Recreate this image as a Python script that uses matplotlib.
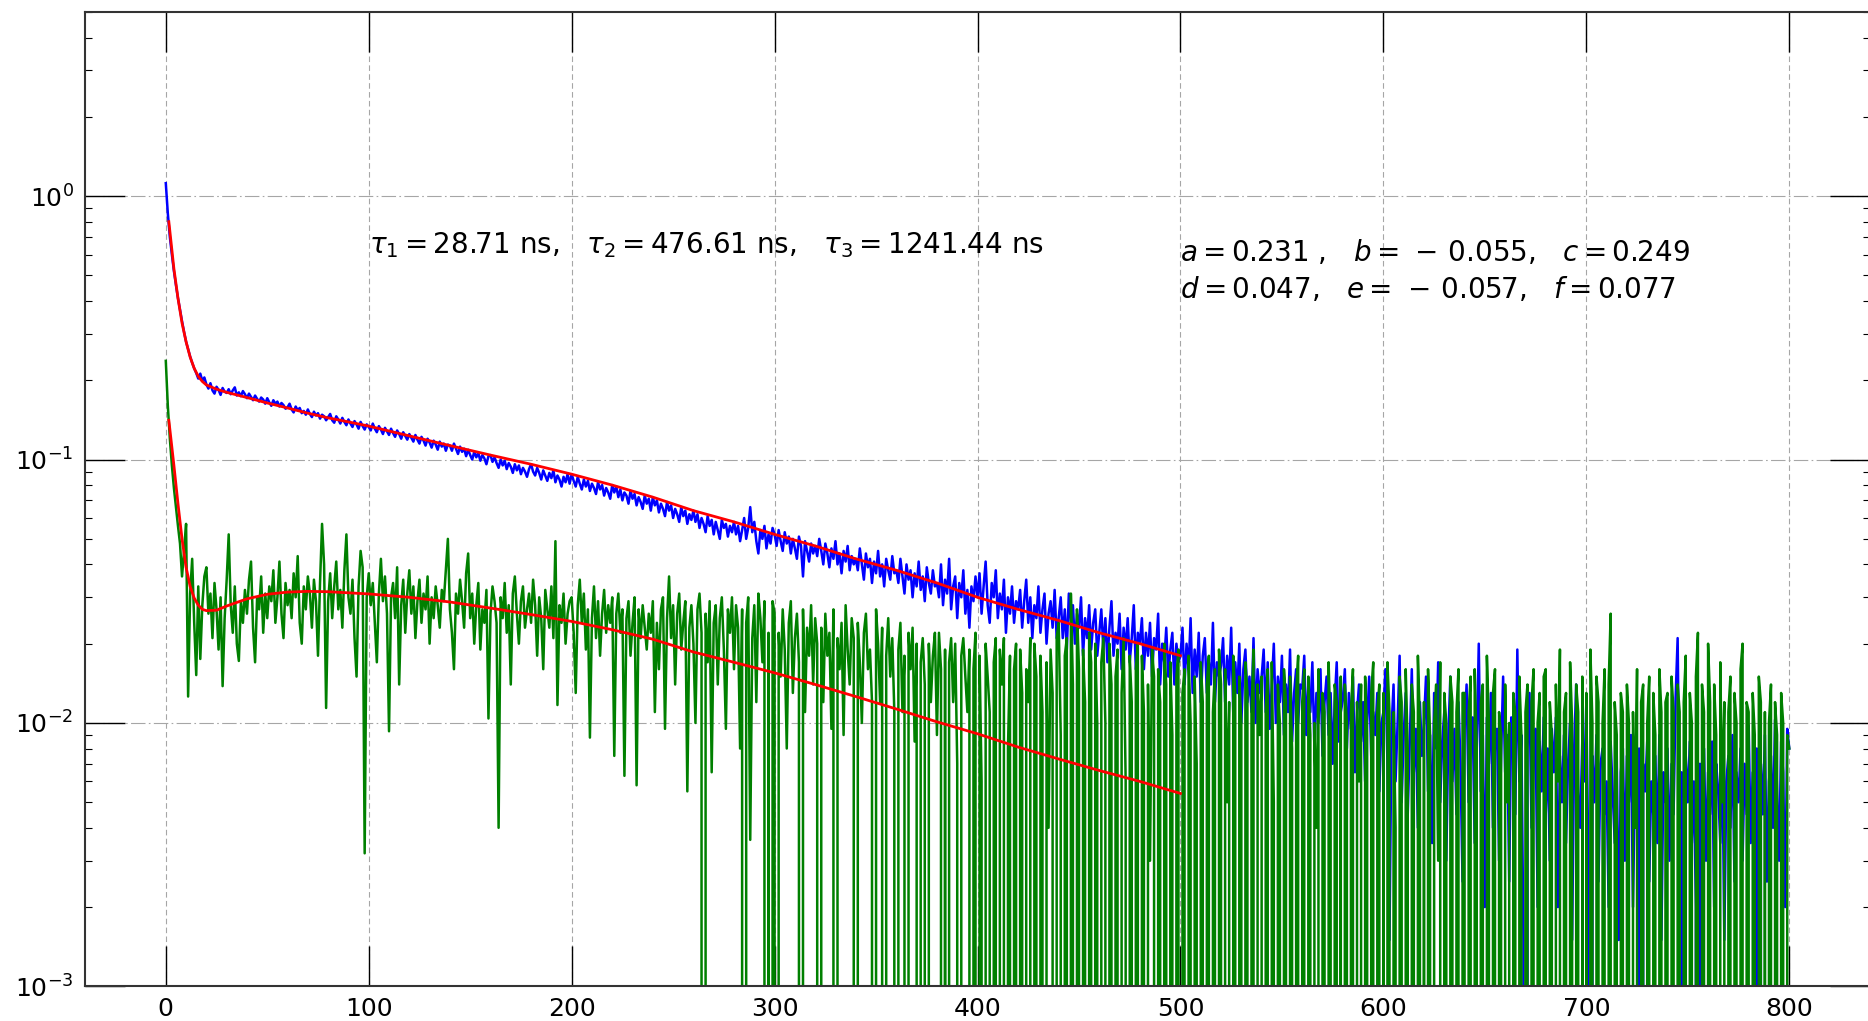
import numpy as np
import matplotlib
matplotlib.use('Agg')
import matplotlib.pyplot as plt

# time bins (ns), 1 ns spacing
t = np.arange(0, 801)

# measured decay (blue)
blue = [
    1.12, 0.86, 0.70, 0.60, 0.52, 0.46, 0.41, 0.37, 0.335, 0.305, 0.28, 0.262, 0.246, 0.233, 0.222, 0.213, 0.203, 0.212, 0.199, 0.205,
    0.193, 0.186, 0.195, 0.183, 0.178, 0.189, 0.184, 0.176, 0.187, 0.181, 0.179, 0.185, 0.177, 0.183, 0.188, 0.175, 0.180, 0.174, 0.182, 0.177,
    0.171, 0.178, 0.173, 0.168, 0.175, 0.170, 0.166, 0.172, 0.169, 0.163, 0.171, 0.165, 0.160, 0.168, 0.163, 0.166, 0.159, 0.164, 0.161, 0.156,
    0.158, 0.163, 0.155, 0.151, 0.159, 0.154, 0.157, 0.150, 0.153, 0.148, 0.155, 0.149, 0.145, 0.152, 0.147, 0.150, 0.143, 0.148, 0.146, 0.141,
    0.145, 0.149, 0.141, 0.138, 0.146, 0.142, 0.137, 0.144, 0.139, 0.135, 0.142, 0.137, 0.133, 0.140, 0.136, 0.131, 0.139, 0.134, 0.130, 0.136,
    0.133, 0.129, 0.137, 0.131, 0.127, 0.134, 0.130, 0.125, 0.132, 0.128, 0.124, 0.131, 0.126, 0.122, 0.129, 0.125, 0.120, 0.127, 0.123, 0.119,
    0.125, 0.121, 0.117, 0.124, 0.119, 0.115, 0.122, 0.118, 0.113, 0.120, 0.116, 0.111, 0.118, 0.114, 0.109, 0.117, 0.112, 0.115, 0.108, 0.114,
    0.113, 0.108, 0.115, 0.110, 0.105, 0.112, 0.107, 0.110, 0.103, 0.109, 0.104, 0.100, 0.107, 0.102, 0.106, 0.099, 0.104, 0.101, 0.096, 0.103,
    0.104, 0.098, 0.102, 0.097, 0.093, 0.100, 0.095, 0.099, 0.092, 0.097, 0.094, 0.089, 0.096, 0.091, 0.095, 0.088, 0.093, 0.090, 0.086, 0.092,
    0.096, 0.090, 0.087, 0.093, 0.089, 0.084, 0.091, 0.087, 0.083, 0.089, 0.085, 0.091, 0.082, 0.087, 0.084, 0.079, 0.086, 0.082, 0.088, 0.081,
    0.088, 0.083, 0.079, 0.086, 0.081, 0.077, 0.084, 0.079, 0.083, 0.076, 0.081, 0.078, 0.074, 0.082, 0.077, 0.080, 0.073, 0.078, 0.075, 0.071,
    0.080, 0.075, 0.079, 0.072, 0.077, 0.070, 0.075, 0.073, 0.068, 0.076, 0.071, 0.074, 0.067, 0.072, 0.069, 0.065, 0.073, 0.068, 0.071, 0.064,
    0.072, 0.067, 0.070, 0.063, 0.068, 0.065, 0.061, 0.069, 0.064, 0.067, 0.060, 0.065, 0.062, 0.058, 0.066, 0.061, 0.064, 0.057, 0.062, 0.059,
    0.064, 0.058, 0.062, 0.055, 0.060, 0.057, 0.053, 0.061, 0.056, 0.059, 0.052, 0.058, 0.054, 0.050, 0.059, 0.055, 0.057, 0.051, 0.056, 0.053,
    0.058, 0.052, 0.056, 0.049, 0.054, 0.060, 0.050, 0.055, 0.066, 0.053, 0.058, 0.049, 0.044, 0.054, 0.050, 0.056, 0.046, 0.052, 0.048, 0.055,
    0.052, 0.047, 0.054, 0.049, 0.045, 0.053, 0.048, 0.051, 0.044, 0.050, 0.046, 0.042, 0.051, 0.047, 0.036, 0.049, 0.045, 0.041, 0.048, 0.044,
    0.047, 0.043, 0.050, 0.045, 0.040, 0.048, 0.044, 0.039, 0.046, 0.042, 0.049, 0.040, 0.044, 0.037, 0.045, 0.041, 0.047, 0.038, 0.043, 0.040,
    0.042, 0.038, 0.046, 0.040, 0.035, 0.044, 0.039, 0.042, 0.034, 0.041, 0.037, 0.045, 0.036, 0.040, 0.033, 0.042, 0.038, 0.035, 0.043, 0.037,
    0.038, 0.034, 0.042, 0.036, 0.031, 0.040, 0.035, 0.038, 0.030, 0.037, 0.033, 0.041, 0.032, 0.036, 0.029, 0.039, 0.034, 0.031, 0.038, 0.033,
    0.034, 0.030, 0.040, 0.028, 0.035, 0.031, 0.042, 0.027, 0.033, 0.036, 0.025, 0.034, 0.030, 0.038, 0.026, 0.032, 0.023, 0.033, 0.029, 0.036,
    0.030, 0.037, 0.026, 0.033, 0.041, 0.028, 0.024, 0.034, 0.030, 0.038, 0.025, 0.031, 0.027, 0.035, 0.022, 0.030, 0.026, 0.033, 0.024, 0.029,
    0.027, 0.032, 0.023, 0.029, 0.035, 0.024, 0.030, 0.021, 0.028, 0.025, 0.033, 0.022, 0.027, 0.031, 0.020, 0.026, 0.029, 0.023, 0.032, 0.021,
    0.025, 0.030, 0.021, 0.027, 0.019, 0.031, 0.024, 0.028, 0.020, 0.026, 0.023, 0.030, 0.018, 0.025, 0.021, 0.028, 0.019, 0.024, 0.027, 0.018,
    0.022, 0.027, 0.019, 0.025, 0.017, 0.023, 0.029, 0.018, 0.022, 0.020, 0.026, 0.016, 0.023, 0.019, 0.025, 0.017, 0.021, 0.028, 0.016, 0.022,
    0.020, 0.025, 0.016, 0.022, 0.018, 0.024, 0.015, 0.021, 0.019, 0.026, 0.014, 0.020, 0.017, 0.023, 0.015, 0.019, 0.022, 0.014, 0.020, 0.017,
    0.018, 0.023, 0.014, 0.020, 0.016, 0.025, 0.013, 0.019, 0.015, 0.022, 0.012, 0.018, 0.021, 0.013, 0.017, 0.014, 0.024, 0.012, 0.017, 0.015,
    0.0165, 0.021, 0.012, 0.018, 0.014, 0.023, 0.011, 0.017, 0.013, 0.020, 0.010, 0.016, 0.019, 0.012, 0.015, 0.011, 0.021, 0.010, 0.016, 0.013,
    0.015, 0.019, 0.011, 0.017, 0.0095, 0.014, 0.020, 0.010, 0.015, 0.012, 0.018, 0.009, 0.014, 0.011, 0.019, 0.0085, 0.013, 0.016, 0.010, 0.014,
    0.0135, 0.018, 0.009, 0.014, 0.011, 0.017, 0.008, 0.013, 0.010, 0.016, 0.0075, 0.012, 0.015, 0.009, 0.013, 0.0070, 0.012, 0.017, 0.0085, 0.011,
    0.0122, 0.016, 0.0080, 0.013, 0.0095, 0.015, 0.0065, 0.011, 0.014, 0.0085, 0.012, 0.0060, 0.010, 0.015, 0.0075, 0.011, 0.0090, 0.013, 0.0055, 0.010,
    0.011, 0.016, 0.0070, 0.0015, 0.0095, 0.014, 0.0060, 0.010, 0.018, 0.0050, 0.009, 0.013, 0.0045, 0.0085, 0.016, 0.0065, 0.0095, 0.0040, 0.012, 0.0075,
    0.010, 0.015, 0.0055, 0.009, 0.0035, 0.013, 0.0080, 0.017, 0.0050, 0.0085, 0.011, 0.0030, 0.009, 0.015, 0.0060, 0.0095, 0.0045, 0.012, 0.0070, 0.0025,
    0.0095, 0.014, 0.0050, 0.0085, 0.0105, 0.0035, 0.008, 0.020, 0.0055, 0.009, 0.0020, 0.0105, 0.0070, 0.013, 0.0040, 0.0085, 0.0095, 0.0030, 0.0075, 0.015,
    0.0065, 0.009, 0.0025, 0.0105, 0.0075, 0.0045, 0.019, 0.0060, 0.0090, 0.0015, 0.0, 0.0080, 0.013, 0.0040, 0.0070, 0.0095, 0.0020, 0.0085, 0.0055, 0.0105,
    0.0045, 0.0080, 0.0030, 0.0095, 0.0065, 0.0105, 0.0020, 0.0075, 0.0050, 0.0090, 0.0035, 0.0070, 0.0100, 0.0015, 0.0080, 0.014, 0.0055, 0.0040, 0.0085, 0.0060,
    0.012, 0.0030, 0.0, 0.0075, 0.0050, 0.0090, 0.0025, 0.0070, 0.0080, 0.0045, 0.0060, 0.0020, 0.0085, 0.0055, 0.0035, 0.0075, 0.0015, 0.0065, 0.0080, 0.0030,
    0.0075, 0.0050, 0.0090, 0.0020, 0.0065, 0.0040, 0.0080, 0.0, 0.0070, 0.0055, 0.0085, 0.0025, 0.0060, 0.0045, 0.0075, 0.0035, 0.0090, 0.0015, 0.0065, 0.0050,
    0.0080, 0.0030, 0.0070, 0.0045, 0.0125, 0.021, 0.0040, 0.0065, 0.0, 0.0075, 0.0050, 0.0085, 0.0035, 0.0060, 0.0020, 0.0, 0.0070, 0.0045, 0.0080, 0.0030,
    0.0065, 0.0045, 0.0085, 0.0020, 0.0070, 0.0055, 0.0035, 0.0080, 0.0015, 0.0060, 0.0075, 0.0040, 0.0090, 0.0025, 0.0065, 0.0050, 0.0080, 0.0030, 0.0070, 0.0045,
    0.0098, 0.0035, 0.0065, 0.0050, 0.0080, 0.0, 0.0070, 0.0045, 0.0090, 0.0025, 0.0060, 0.0075, 0.0040, 0.0103, 0.0055, 0.0030, 0.0085, 0.0065, 0.0020, 0.0095,
    0.0080,
]

# second component (green)
green = [
    0.237, 0.16, 0.12, 0.095, 0.078, 0.066, 0.056, 0.048, 0.036, 0.045, 0.057, 0.0126, 0.031, 0.042, 0.024, 0.0152, 0.033, 0.0175, 0.028, 0.036,
    0.039, 0.026, 0.031, 0.021, 0.034, 0.027, 0.019, 0.030, 0.0138, 0.025, 0.035, 0.052, 0.028, 0.022, 0.033, 0.020, 0.0172, 0.029, 0.024, 0.032,
    0.026, 0.035, 0.041, 0.023, 0.017, 0.030, 0.027, 0.036, 0.022, 0.031, 0.025, 0.033, 0.029, 0.038, 0.024, 0.030, 0.041, 0.026, 0.021, 0.034,
    0.028, 0.032, 0.025, 0.037, 0.030, 0.043, 0.024, 0.020, 0.033, 0.027, 0.036, 0.031, 0.023, 0.035, 0.029, 0.018, 0.034, 0.057, 0.040, 0.0114,
    0.029, 0.037, 0.025, 0.033, 0.041, 0.027, 0.032, 0.023, 0.038, 0.052, 0.030, 0.026, 0.035, 0.021, 0.015, 0.033, 0.045, 0.039, 0.0032, 0.030,
    0.037, 0.028, 0.034, 0.024, 0.017, 0.031, 0.042, 0.029, 0.036, 0.026, 0.0093, 0.030, 0.034, 0.025, 0.039, 0.014, 0.028, 0.035, 0.022, 0.031,
    0.038, 0.026, 0.033, 0.021, 0.029, 0.035, 0.024, 0.031, 0.027, 0.036, 0.020, 0.030, 0.025, 0.033, 0.028, 0.023, 0.032, 0.029, 0.038, 0.050,
    0.027, 0.022, 0.016, 0.031, 0.026, 0.035, 0.029, 0.023, 0.037, 0.044, 0.025, 0.031, 0.020, 0.028, 0.034, 0.019, 0.027, 0.024, 0.032, 0.0104,
    0.026, 0.033, 0.029, 0.024, 0.0040, 0.030, 0.025, 0.034, 0.022, 0.028, 0.014, 0.031, 0.036, 0.026, 0.020, 0.029, 0.033, 0.023, 0.027, 0.031,
    0.024, 0.035, 0.028, 0.018, 0.030, 0.025, 0.016, 0.032, 0.027, 0.023, 0.033, 0.021, 0.049, 0.0117, 0.028, 0.024, 0.031, 0.020, 0.026, 0.029,
    0.030, 0.022, 0.013, 0.028, 0.035, 0.024, 0.031, 0.019, 0.027, 0.0088, 0.025, 0.033, 0.021, 0.029, 0.018, 0.026, 0.032, 0.022, 0.028, 0.024,
    0.030, 0.0075, 0.026, 0.031, 0.022, 0.027, 0.0063, 0.025, 0.029, 0.018, 0.024, 0.030, 0.0058, 0.027, 0.021, 0.028, 0.023, 0.019, 0.026, 0.022,
    0.029, 0.011, 0.024, 0.016, 0.027, 0.030, 0.0095, 0.025, 0.036, 0.021, 0.028, 0.014, 0.026, 0.031, 0.019, 0.024, 0.029, 0.0055, 0.023, 0.028,
    0.020, 0.010, 0.027, 0.031, 0.022, 0.0, 0.026, 0.017, 0.029, 0.0065, 0.024, 0.028, 0.014, 0.025, 0.030, 0.019, 0.0095, 0.027, 0.022, 0.030,
    0.016, 0.028, 0.023, 0.008, 0.027, 0.0, 0.024, 0.030, 0.0036, 0.021, 0.028, 0.012, 0.031, 0.025, 0.017, 0.029, 0.0, 0.022, 0.0, 0.029,
    0.026, 0.0, 0.022, 0.015, 0.027, 0.019, 0.0080, 0.024, 0.029, 0.013, 0.021, 0.026, 0.017, 0.0, 0.027, 0.011, 0.023, 0.018, 0.028, 0.014,
    0.025, 0.020, 0.0, 0.023, 0.012, 0.026, 0.018, 0.022, 0.0095, 0.027, 0.0, 0.021, 0.016, 0.024, 0.0090, 0.028, 0.019, 0.014, 0.025, 0.021,
    0.0, 0.024, 0.017, 0.010, 0.022, 0.026, 0.016, 0.019, 0.012, 0.0, 0.027, 0.020, 0.012, 0.023, 0.0, 0.018, 0.025, 0.015, 0.021, 0.011,
    0.0, 0.019, 0.024, 0.011, 0.018, 0.0, 0.022, 0.016, 0.023, 0.0085, 0.020, 0.0, 0.017, 0.021, 0.014, 0.0, 0.020, 0.012, 0.018, 0.022,
    0.009, 0.022, 0.016, 0.0, 0.019, 0.0, 0.017, 0.021, 0.012, 0.020, 0.007, 0.0, 0.018, 0.021, 0.015, 0.011, 0.019, 0.0, 0.016, 0.022,
    0.0, 0.018, 0.006, 0.0, 0.020, 0.015, 0.011, 0.0, 0.017, 0.021, 0.0, 0.019, 0.014, 0.021, 0.0, 0.008, 0.018, 0.0, 0.016, 0.020,
    0.0, 0.019, 0.013, 0.0, 0.016, 0.012, 0.021, 0.0, 0.020, 0.015, 0.0, 0.018, 0.011, 0.0, 0.017, 0.004, 0.019, 0.013, 0.0, 0.021,
    0.024, 0.009, 0.0, 0.018, 0.021, 0.0, 0.031, 0.014, 0.0, 0.027, 0.016, 0.0, 0.019, 0.012, 0.0, 0.022, 0.017, 0.0, 0.020, 0.010,
    0.0, 0.017, 0.021, 0.010, 0.0, 0.020, 0.014, 0.0, 0.015, 0.019, 0.0, 0.013, 0.021, 0.006, 0.0, 0.018, 0.012, 0.0, 0.016, 0.020,
    0.0, 0.018, 0.011, 0.0, 0.014, 0.003, 0.019, 0.015, 0.0, 0.016, 0.012, 0.0, 0.020, 0.014, 0.0, 0.017, 0.009, 0.0, 0.015, 0.019,
    0.0, 0.013, 0.016, 0.0, 0.018, 0.010, 0.0, 0.015, 0.007, 0.0, 0.017, 0.012, 0.0, 0.014, 0.018, 0.0, 0.011, 0.016, 0.0, 0.019,
    0.014, 0.0, 0.016, 0.005, 0.012, 0.0, 0.018, 0.013, 0.0, 0.015, 0.010, 0.0, 0.017, 0.013, 0.0, 0.011, 0.019, 0.0, 0.014, 0.009,
    0.015, 0.0, 0.011, 0.016, 0.0, 0.017, 0.005, 0.0, 0.014, 0.010, 0.0, 0.016, 0.012, 0.0, 0.015, 0.008, 0.0, 0.013, 0.018, 0.0,
    0.012, 0.016, 0.0, 0.015, 0.009, 0.0, 0.010, 0.004, 0.016, 0.0, 0.013, 0.011, 0.0, 0.017, 0.009, 0.0, 0.014, 0.012, 0.0, 0.015,
    0.0, 0.014, 0.010, 0.0, 0.011, 0.016, 0.0, 0.012, 0.006, 0.014, 0.0, 0.015, 0.009, 0.0, 0.013, 0.017, 0.0, 0.011, 0.014, 0.0,
    0.013, 0.0, 0.017, 0.011, 0.0, 0.011, 0.004, 0.0, 0.015, 0.012, 0.0, 0.016, 0.008, 0.0, 0.014, 0.011, 0.0, 0.018, 0.010, 0.0,
    0.012, 0.0, 0.016, 0.009, 0.0, 0.010, 0.014, 0.003, 0.017, 0.0, 0.013, 0.010, 0.0, 0.015, 0.012, 0.0, 0.011, 0.016, 0.0, 0.013,
    0.013, 0.0, 0.011, 0.015, 0.0, 0.016, 0.008, 0.0, 0.012, 0.014, 0.0, 0.018, 0.010, 0.0, 0.013, 0.016, 0.0, 0.011, 0.009, 0.0,
    0.014, 0.005, 0.010, 0.0, 0.013, 0.011, 0.0, 0.015, 0.009, 0.0, 0.011, 0.014, 0.0, 0.012, 0.016, 0.0, 0.010, 0.013, 0.0, 0.015,
    0.016, 0.0, 0.012, 0.009, 0.0, 0.014, 0.006, 0.019, 0.0, 0.011, 0.013, 0.0, 0.017, 0.010, 0.0, 0.014, 0.011, 0.0, 0.015, 0.0,
    0.013, 0.0, 0.019, 0.010, 0.0, 0.015, 0.012, 0.0, 0.010, 0.016, 0.0, 0.014, 0.026, 0.0, 0.012, 0.009, 0.0, 0.013, 0.011, 0.0,
    0.014, 0.010, 0.0, 0.011, 0.004, 0.016, 0.0, 0.012, 0.014, 0.0, 0.010, 0.015, 0.0, 0.013, 0.009, 0.0, 0.016, 0.011, 0.0, 0.012,
    0.013, 0.0, 0.015, 0.011, 0.0, 0.014, 0.011, 0.0, 0.012, 0.018, 0.0, 0.013, 0.010, 0.0, 0.015, 0.022, 0.0, 0.014, 0.011, 0.0,
    0.020, 0.012, 0.0, 0.014, 0.009, 0.0, 0.017, 0.005, 0.012, 0.0, 0.011, 0.015, 0.0, 0.013, 0.010, 0.0, 0.016, 0.020, 0.0, 0.012,
    0.011, 0.0, 0.013, 0.009, 0.0, 0.015, 0.012, 0.0, 0.011, 0.0, 0.010, 0.014, 0.0, 0.012, 0.009, 0.0, 0.013, 0.010, 0.0, 0.009,
    0.008,
]

# fitted curves (red)
fit_t = [1.5, 4, 6, 8, 10, 12, 14, 16, 18, 20, 25, 30, 40, 50, 60, 70, 80, 90,
         100, 120, 140, 160, 180, 200, 220, 240, 260, 280, 300, 320, 340, 360,
         380, 400, 420, 440, 460, 480, 500]
fit_blue = [0.80, 0.53, 0.41, 0.33, 0.28, 0.245, 0.222, 0.207, 0.198, 0.192,
            0.185, 0.180, 0.172, 0.164, 0.157, 0.150, 0.144, 0.139, 0.134,
            0.123, 0.113, 0.104, 0.096, 0.088, 0.080, 0.072, 0.064, 0.058,
            0.052, 0.047, 0.042, 0.038, 0.034, 0.030, 0.027, 0.0245, 0.022,
            0.020, 0.018]
fit_green = [0.141, 0.095, 0.068, 0.050, 0.039, 0.033, 0.0298, 0.028, 0.027,
             0.0267, 0.0268, 0.0278, 0.0296, 0.0308, 0.0314, 0.0316, 0.0315,
             0.0312, 0.0309, 0.0300, 0.0288, 0.0273, 0.0258, 0.0243, 0.0226,
             0.0208, 0.0186, 0.0170, 0.0155, 0.0140, 0.0126, 0.0113, 0.0101,
             0.0091, 0.0081, 0.0073, 0.0066, 0.0060, 0.0054]

assert len(blue) == len(t), len(blue)
assert len(green) == len(t), len(green)
assert len(fit_blue) == len(fit_t) and len(fit_green) == len(fit_t)

tau_label = r'$\tau_1 = 28.71$ ns,   $\tau_2 = 476.61$ ns,   $\tau_3 = 1241.44$ ns'
coef_line1 = r'$a = 0.231$ ,   $b = \,-\,0.055$,   $c = 0.249$'
coef_line2 = r'$d = 0.047$,   $e = \,-\,0.057$,   $f = 0.077$'

fig = plt.figure(figsize=(18.68, 10.21), dpi=100)
ax = fig.add_axes([0.0453, 0.0339, 0.956, 0.9543])

ax.plot(t, blue, color='b', lw=1.8)
ax.plot(t, green, color='g', lw=1.8)
ax.plot(fit_t, fit_blue, color='r', lw=2)
ax.plot(fit_t, fit_green, color='r', lw=2)

ax.set_yscale('log')
ax.set_xlim(-40, 840)
ax.set_ylim(1e-3, 5)
ax.set_xticks(range(0, 801, 100))

ax.xaxis.grid(True, linestyle=(0, (5, 3)), color='0.65', lw=0.8)
ax.yaxis.grid(True, which='major', linestyle=(0, (13, 3, 1.5, 3)), color='0.65', lw=0.8)

ax.tick_params(which='both', direction='in', top=True, right=True,
               labelsize=18, pad=8)
ax.tick_params(which='major', length=28.8, width=1)
ax.tick_params(which='minor', length=5, width=0.8)
for s in ax.spines.values():
    s.set_linewidth(1.5)
    s.set_color('0.2')

ax.text(100, 0.61, tau_label, fontsize=20)
ax.text(500, 0.565, coef_line1, fontsize=20)
ax.text(500, 0.41, coef_line2, fontsize=20)

fig.savefig('out.png', dpi=100)
